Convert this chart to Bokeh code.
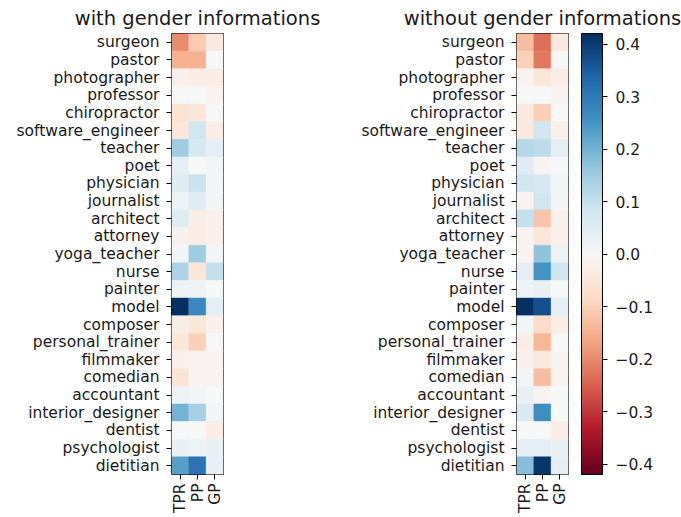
import numpy as np
from bokeh.plotting import figure
from bokeh.layouts import row
from bokeh.models import (FactorRange, LinearColorMapper, ColorBar, FixedTicker,
                          CustomJSTickFormatter, ColumnDataSource)
from bokeh.embed import file_html
from bokeh.resources import INLINE

occupations = ["surgeon", "pastor", "photographer", "professor", "chiropractor",
               "software_engineer", "teacher", "poet", "physician", "journalist",
               "architect", "attorney", "yoga_teacher", "nurse", "painter", "model",
               "composer", "personal_trainer", "filmmaker", "comedian", "accountant",
               "interior_designer", "dentist", "psychologist", "dietitian"]
metrics = ["TPR", "PP", "GP"]

tpr_with = [-0.20, -0.15, -0.02, 0.00, -0.06, -0.05, 0.15, 0.04, 0.05, 0.02,
            0.05, -0.02, 0.01, 0.13, 0.02, 0.42, -0.03, -0.05, -0.02, -0.06,
            0.02, 0.20, 0.00, 0.03, 0.23]
pp_with = [-0.11, -0.15, -0.03, 0.00, -0.05, 0.08, 0.07, 0.00, 0.09, 0.05,
           -0.03, -0.03, 0.15, -0.05, 0.02, 0.27, -0.05, -0.10, -0.01, -0.01,
           0.01, 0.14, 0.00, 0.02, 0.31]
gp_with = [-0.04, 0.00, -0.03, -0.01, 0.00, -0.03, 0.04, 0.01, 0.01, 0.01,
           -0.02, -0.02, 0.01, 0.10, 0.00, 0.04, -0.02, 0.00, -0.01, -0.01,
           0.00, 0.01, -0.03, 0.03, 0.03]

tpr_without = [-0.13, -0.10, -0.01, 0.00, -0.04, -0.04, 0.12, 0.05, 0.08, -0.01,
               0.10, -0.01, -0.01, 0.04, 0.02, 0.42, 0.01, -0.03, -0.02, 0.01,
               0.03, 0.06, 0.00, 0.04, 0.18]
pp_without = [-0.23, -0.22, -0.05, 0.00, -0.10, 0.08, 0.11, -0.01, 0.07, 0.08,
              -0.12, -0.05, 0.17, 0.25, 0.03, 0.37, -0.08, -0.14, -0.04, -0.13,
              -0.01, 0.26, 0.00, 0.04, 0.41]
gp_without = [-0.04, 0.00, -0.03, -0.01, 0.00, -0.02, 0.04, 0.00, 0.01, 0.01,
              -0.02, -0.02, 0.02, 0.08, 0.00, 0.04, -0.03, 0.00, -0.01, -0.01,
              0.00, 0.00, -0.03, 0.03, 0.04]

colorbar_ticks = [-0.4, -0.3, -0.2, -0.1, 0.0, 0.1, 0.2, 0.3, 0.4]
vlim = 0.42

# RdBu colormap (low = red, high = blue)
anchors = ["#67001f", "#b2182b", "#d6604d", "#f4a582", "#fddbc7", "#f7f7f7",
           "#d1e5f0", "#92c5de", "#4393c3", "#2166ac", "#053061"]
rgb = np.array([[int(c[i:i + 2], 16) for i in (1, 3, 5)] for c in anchors], dtype=float)
pos = np.linspace(0, 1, len(anchors))
t = np.linspace(0, 1, 256)
pal = ["#%02x%02x%02x" % tuple(int(round(np.interp(tt, pos, rgb[:, k]))) for k in range(3))
       for tt in t]
mapper = LinearColorMapper(palette=pal, low=-vlim, high=vlim)

FONT = "DejaVu Sans"
TXT = "#1a1a1a"
H = 516


def heat(title, tpr, pp, gp, width, left, right):
    xs, ys, vs = [], [], []
    for occ, a, b, c in zip(occupations, tpr, pp, gp):
        for m, v in zip(metrics, (a, b, c)):
            xs.append(m)
            ys.append(occ)
            vs.append(v)
    src = ColumnDataSource(dict(x=xs, y=ys, v=vs))
    p = figure(width=width, height=H, x_range=FactorRange(*metrics),
               y_range=FactorRange(*occupations[::-1]), title=title,
               output_backend="svg", toolbar_location=None,
               min_border_left=left, min_border_right=right,
               min_border_top=32, min_border_bottom=42)
    p.rect(x="x", y="y", width=1, height=1, source=src,
           fill_color={"field": "v", "transform": mapper},
           line_color={"field": "v", "transform": mapper}, line_width=0.5)
    p.grid.visible = False
    p.outline_line_color = "black"
    p.outline_line_width = 1
    p.outline_line_alpha = 1
    p.background_fill_color = "white"
    p.border_fill_color = "white"
    for ax in (p.xaxis[0], p.yaxis[0]):
        ax.axis_line_color = None
        ax.major_tick_line_color = "black"
        ax.major_tick_out = 5
        ax.major_tick_in = 0
        ax.minor_tick_line_color = None
        ax.major_label_text_font = FONT
        ax.major_label_text_font_size = "15.5px"
        ax.major_label_text_color = TXT
    p.yaxis.major_label_standoff = 7
    p.xaxis.major_label_standoff = 4
    p.xaxis.major_label_orientation = np.pi / 2
    p.title.text_font = FONT
    p.title.text_font_size = "19.5px"
    p.title.text_font_style = "normal"
    p.title.text_color = TXT
    p.title.align = "center"
    p.title.standoff = 8
    return p


p1 = heat("with gender informations", tpr_with, pp_with, gp_with, 328, 171, 105)
p2 = heat("without gender informations", tpr_without, pp_without, gp_without, 353, 188, 113)

cb = ColorBar(color_mapper=mapper, ticker=FixedTicker(ticks=colorbar_ticks),
              formatter=CustomJSTickFormatter(code="return tick.toFixed(1).replace('-', '\u2212')"),
              width=21, padding=0, margin=0, location=(13, 0),
              major_tick_out=5, major_tick_in=0, major_tick_line_color="black",
              minor_tick_line_color=None, label_standoff=8,
              major_label_text_font=FONT, major_label_text_font_size="15.5px",
              major_label_text_color=TXT, bar_line_color="black",
              border_line_color=None, background_fill_alpha=0)
p2.add_layout(cb, "right")

layout = row(p1, p2)
open("out.html", "w").write(file_html(layout, INLINE))
